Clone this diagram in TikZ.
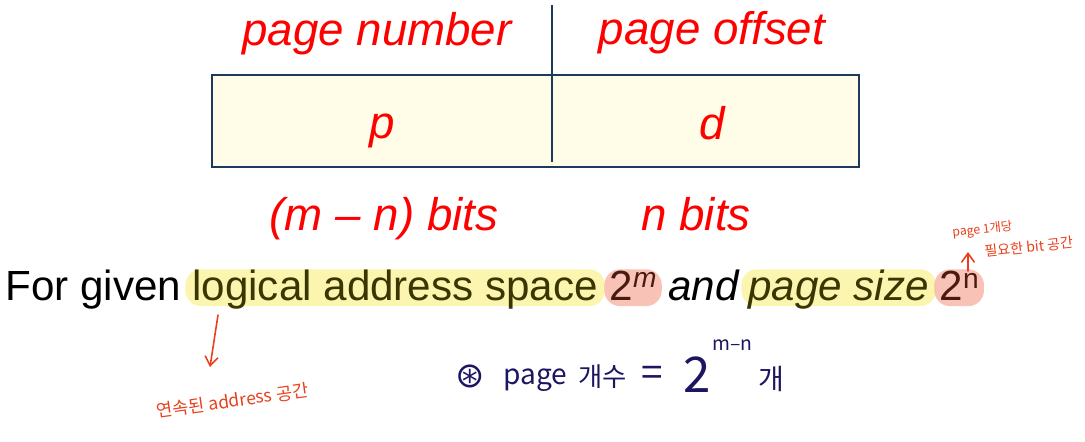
\documentclass[tikz,border=0pt]{standalone}
\usepackage{fontspec}
\setmainfont{Liberation Sans}
\newfontfamily\krfont{Noto Sans CJK KR}
\newfontfamily\symfont{DejaVu Sans}
\usetikzlibrary{arrows.meta,positioning}
\definecolor{boxline}{HTML}{1B3A5C}
\definecolor{boxfill}{HTML}{FFFDE8}
\definecolor{labred}{HTML}{FF0000}
\definecolor{penred}{HTML}{E8401C}
\definecolor{penink}{HTML}{1C1660}
\definecolor{hlyellow}{HTML}{FAF39C}
\definecolor{hlpink}{HTML}{F6B3A4}
\definecolor{hltext}{HTML}{3A3600}
\definecolor{hlbrown}{HTML}{4A1A12}
\tikzset{field/.style={font=\fontsize{26}{30}\selectfont\itshape, text=labred, anchor=base, inner sep=0pt}, sent/.style={font=\fontsize{24}{28}\selectfont, anchor=base west, inner sep=0pt, text height=17.5pt, text depth=3.5pt}, hly/.style={sent, fill=hlyellow, fill opacity=.8, text opacity=1, rounded corners=9pt, inner xsep=4pt, text=hltext}, hlp/.style={sent, fill=hlpink, fill opacity=.8, text opacity=1, rounded corners=9pt, inner xsep=3pt, text=hlbrown}, pen/.style={font=\krfont, text=penred, anchor=base west, inner sep=0pt}, ink/.style={text=penink, inner sep=0pt}, penarrow/.style={-{Straight Barb[length=1.8mm,width=2.6mm]}, line width=.9pt, penred, line cap=round}}

\begin{document}
\begin{tikzpicture}[x=0.02cm,y=-0.02cm]
\useasboundingbox (0,0) rectangle (1085,441);
% address layout
\draw[boxline, fill=boxfill, line width=1.4pt] (212,75) rectangle (859,167);
\coordinate (divtop) at (552,5); \coordinate (divbot) at (552,162);
\draw[boxline, line width=1.1pt] (divtop) -- (divbot);
\node[field] (pnum) at (377,45) {page number}; \node[field] (poff) at (712,44) {page offset};
\node[field] (pfield) at (382,138) {p}; \node[field] (dfield) at (712,139) {d};
\node[field] (pbits) at (384,230) {(m – n) bits}; \node[field] (dbits) at (696,230) {n bits};
% sentence with highlights
\node[sent] (given) at (5,300) {For given};
\node[hly] (las) at (185,300) {logical address space};
\node[hlp] (pm) at (604,300) {2\raisebox{7pt}{\fontsize{16}{16}\selectfont\itshape m}};
\node[sent] (andw) at (668,300) {\itshape and};
\node[hly] (psz) at (741,300) {\itshape page size};
\node[hlp] (pn) at (934,300) {2\raisebox{6.5pt}{\fontsize{16}{16}\selectfont n}};
% pen notes
\coordinate (ltail) at (218,315); \coordinate (ltip) at (210,367);
\draw[penarrow] (ltail) -- (ltip);
\node[pen, rotate=8, font=\krfont\fontsize{10}{12}\selectfont] (lnote) at (157,418) {연속된 address 공간};
\coordinate (rtail) at (968,271); \coordinate (rtip) at (968,252);
\draw[penarrow] (rtail) -- (rtip);
\node[pen, rotate=6, align=left, font=\krfont\fontsize{7}{8}\selectfont] (rnote) at (955,260) {page 1개당\\[4pt]\hspace*{17pt}{\fontsize{8}{9}\selectfont 필요한 bit 공간}};
% page count
\node[ink, font=\symfont\fontsize{20}{24}\selectfont] (star) at (470,376) {⊛};
\node[ink, anchor=base west, font=\krfont\fontsize{16}{20}\selectfont] (pgw) at (503,384) {page};
\node[ink, anchor=base west, font=\krfont\fontsize{15}{18}\selectfont] (gsu) at (578,386) {개수};
\node[ink, font=\krfont\fontsize{22}{24}\selectfont] (eq) at (652,376) {=};
\node[ink, anchor=base west, font=\krfont\fontsize{28}{30}\selectfont] (two) at (683,392) {2};
\node[ink, anchor=base west, font=\krfont\fontsize{11}{12}\selectfont] (supmn) at (712,350) {m–n};
\node[ink, anchor=base west, font=\krfont\fontsize{16}{18}\selectfont] (gae) at (758,389) {개};
\end{tikzpicture}
\end{document}
